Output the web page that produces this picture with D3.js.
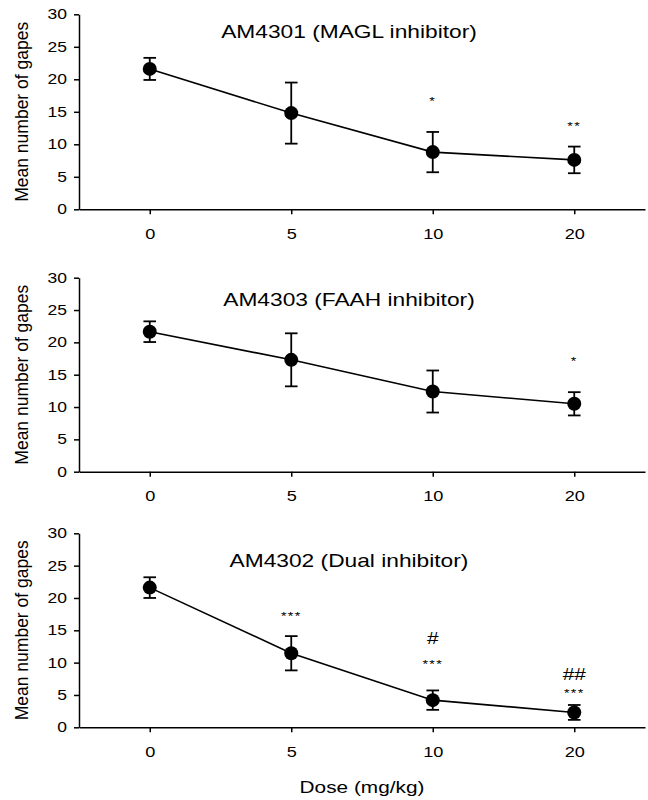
<!DOCTYPE html>
<html>
<head>
<meta charset="utf-8">
<script src="https://cdn.jsdelivr.net/npm/d3@7"></script>
<style>
  html, body { margin: 0; padding: 0; background: #fff; }
  svg { display: block; }
  text { font-family: "Liberation Sans", Arial, sans-serif; fill: #000; }
</style>
</head>
<body>
<svg id="chart" width="648" height="800"></svg>
<script>
// ---- data ----
const doses = ["0", "5", "10", "20"];
const yTicks = [0, 5, 10, 15, 20, 25, 30];
const titles = ["AM4301 (MAGL inhibitor)", "AM4303 (FAAH inhibitor)", "AM4302 (Dual inhibitor)"];

const maglMean = [21.6, 14.8, 8.8, 7.6];
const maglSem  = [1.7, 4.7, 3.1, 2.05];
const faahMean = [21.65, 17.3, 12.4, 10.5];
const faahSem  = [1.6, 4.1, 3.25, 1.8];
const dualMean = [21.6, 11.45, 4.2, 2.3];
const dualSem  = [1.6, 2.65, 1.5, 1.15];

// significance marks: dose, symbol, value level
const maglMarks = [["10", "*", 17.1], ["20", "**", 13.3]];
const faahMarks = [["20", "*", 17.5]];
const dualMarks = [["5", "***", 17.6], ["10", "#", 13.8], ["10", "***", 10.3], ["20", "##", 8.2], ["20", "***", 5.7]];

const xLabel = "Dose (mg/kg)";
const yLabel = "Mean number of gapes";

// ---- layout ----
const W = 648, H = 800;
const axisX0 = 79, axisX1 = 645;
const SX = 1.3; // horizontal stretch of the figure's lettering
const panels = [
  { top: 14.3, bottom: 209.3, titleY: 38, mean: maglMean, sem: maglSem, marks: maglMarks },
  { top: 277.7, bottom: 471.7, titleY: 306, mean: faahMean, sem: faahSem, marks: faahMarks },
  { top: 533.3, bottom: 727.3, titleY: 567, mean: dualMean, sem: dualSem, marks: dualMarks }
];

const svg = d3.select("#chart");
const x = d3.scalePoint().domain(doses).range([axisX0, axisX1]).padding(0.5);

function stretchText(sel, cx, cy) {
  sel.attr("transform", `translate(${cx},${cy}) scale(${SX},1) translate(${-cx},${-cy})`);
}

panels.forEach((p, i) => {
  const y = d3.scaleLinear().domain([0, 30]).range([p.bottom, p.top]);
  const g = svg.append("g");

  // y axis
  const ya = g.append("g")
    .attr("transform", `translate(${axisX0},0)`)
    .call(d3.axisLeft(y).tickValues(yTicks).tickSize(5).tickSizeOuter(0).tickPadding(7));
  ya.select(".domain").attr("stroke", "#000").attr("stroke-width", 1.5);
  ya.selectAll(".tick line").attr("stroke", "#000").attr("stroke-width", 1.5);
  ya.selectAll(".tick text")
    .attr("font-size", 14).attr("font-family", "Liberation Sans, Arial, sans-serif").attr("fill", "#111")
    .attr("transform", "translate(-12,0) scale(1.25,1) translate(12,0)");

  // x axis
  const xa = g.append("g")
    .attr("transform", `translate(0,${p.bottom})`)
    .call(d3.axisBottom(x).tickSize(5).tickSizeOuter(0).tickPadding(14));
  xa.select(".domain").attr("stroke", "#000").attr("stroke-width", 1.5);
  xa.selectAll(".tick line").attr("stroke", "#000").attr("stroke-width", 1.5);
  xa.selectAll(".tick text")
    .attr("font-size", 14.5).attr("font-family", "Liberation Sans, Arial, sans-serif").attr("fill", "#111")
    .attr("transform", "scale(1.25,1)");

  // y label
  const midY = (p.top + p.bottom) / 2;
  g.append("text")
    .attr("transform", `translate(28,${midY}) rotate(-90)`)
    .attr("text-anchor", "middle")
    .attr("font-size", 17.5)
    .attr("fill", "#111")
    .text(yLabel);

  // title
  const tcx = 349;
  g.append("text")
    .attr("x", tcx).attr("y", p.titleY)
    .attr("text-anchor", "middle")
    .attr("font-size", 17.5)
    .attr("fill", "#111")
    .text(titles[i])
    .call(stretchText, tcx, p.titleY);

  const pts = doses.map((d, k) => ({ d, m: p.mean[k], s: p.sem[k] }));

  // line
  g.append("path")
    .datum(pts)
    .attr("fill", "none").attr("stroke", "#000").attr("stroke-width", 1.6)
    .attr("d", d3.line().x(d => x(d.d)).y(d => y(d.m)));

  // error bars
  const cap = 6.3;
  const eb = g.append("g").attr("stroke", "#000").attr("stroke-width", 1.8);
  pts.forEach(d => {
    const cx = x(d.d);
    eb.append("line").attr("x1", cx).attr("x2", cx).attr("y1", y(d.m + d.s)).attr("y2", y(d.m - d.s));
    eb.append("line").attr("x1", cx - cap).attr("x2", cx + cap).attr("y1", y(d.m + d.s)).attr("y2", y(d.m + d.s));
    eb.append("line").attr("x1", cx - cap).attr("x2", cx + cap).attr("y1", y(d.m - d.s)).attr("y2", y(d.m - d.s));
  });

  // markers
  g.selectAll("circle.pt").data(pts).enter().append("circle")
    .attr("class", "pt")
    .attr("cx", d => x(d.d)).attr("cy", d => y(d.m)).attr("r", 7)
    .attr("fill", "#000");

  // significance marks
  p.marks.forEach(([dose, sym, lvl]) => {
    const cx = x(dose), cy = y(lvl);
    const isHash = sym.indexOf("#") >= 0;
    const t = g.append("text")
      .attr("x", cx).attr("y", cy)
      .attr("text-anchor", "middle")
      .attr("font-size", isHash ? 16 : 11)
      .attr("dy", isHash ? "0.36em" : "0.62em")
      .attr("fill", isHash ? "#000" : "#333")
      .attr("letter-spacing", isHash ? 0 : 1)
      .text(sym);
    stretchText(t, cx, cy);
  });
});

// x axis title
const lcx = (axisX0 + axisX1) / 2;
svg.append("text")
  .attr("x", lcx).attr("y", 793)
  .attr("text-anchor", "middle")
  .attr("font-size", 16)
  .attr("fill", "#111")
  .text(xLabel)
  .call(stretchText, lcx, 793);
</script>
</body>
</html>
